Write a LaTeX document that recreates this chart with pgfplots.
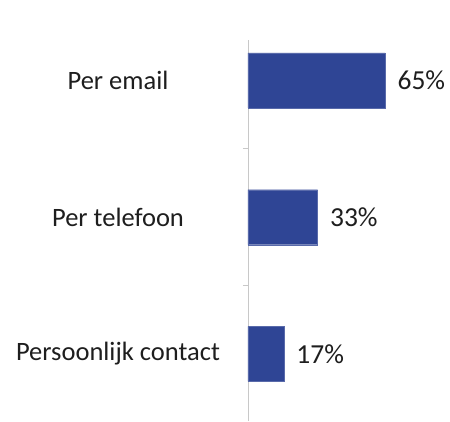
\documentclass[border=0pt]{standalone}
\usepackage{pgfplots}
\pgfplotsset{compat=1.18}
\usepackage{fontspec}
\setmainfont{Carlito}
\definecolor{barblue}{HTML}{2F4595}
\definecolor{axgray}{HTML}{C8C8C8}
\definecolor{txt}{HTML}{1E1E1E}
\begin{document}
\begin{tikzpicture}
\begin{axis}[
  scale only axis,
  width=202pt, height=381pt,
  xmin=0, xmax=95.8,
  ymin=-0.49, ymax=2.296,
  hide x axis,
  axis y line*=left,
  y axis line style={axgray, line width=0.8pt},
  ytick={0,1,2},
  yticklabels={Persoonlijk contact, Per telefoon, Per email},
  major tick length=0pt,
  minor ytick={-0.5,0.5,1.5},
  minor tick length=5pt,
  tick align=outside,
  minor tick style={axgray, line width=0.8pt},
  yticklabel style={anchor=center, xshift=-130pt, font=\fontsize{26.5}{30}\selectfont, text=txt},
  xbar,
  bar width=55pt,
  nodes near coords={\pgfmathprintnumber[assume math mode=true]{\pgfplotspointmeta}\%},
  nodes near coords style={font=\fontsize{27.5}{30}\selectfont, text=txt, anchor=west, xshift=9pt},
  point meta=x,
]
\addplot[fill=barblue, draw=barblue!80] coordinates {(17,0) (33,1) (65,2)};
\end{axis}
\pgfresetboundingbox
\path (current axis.south west) ++(-248pt,0) rectangle ++(450pt,421pt);
\end{tikzpicture}
\end{document}
